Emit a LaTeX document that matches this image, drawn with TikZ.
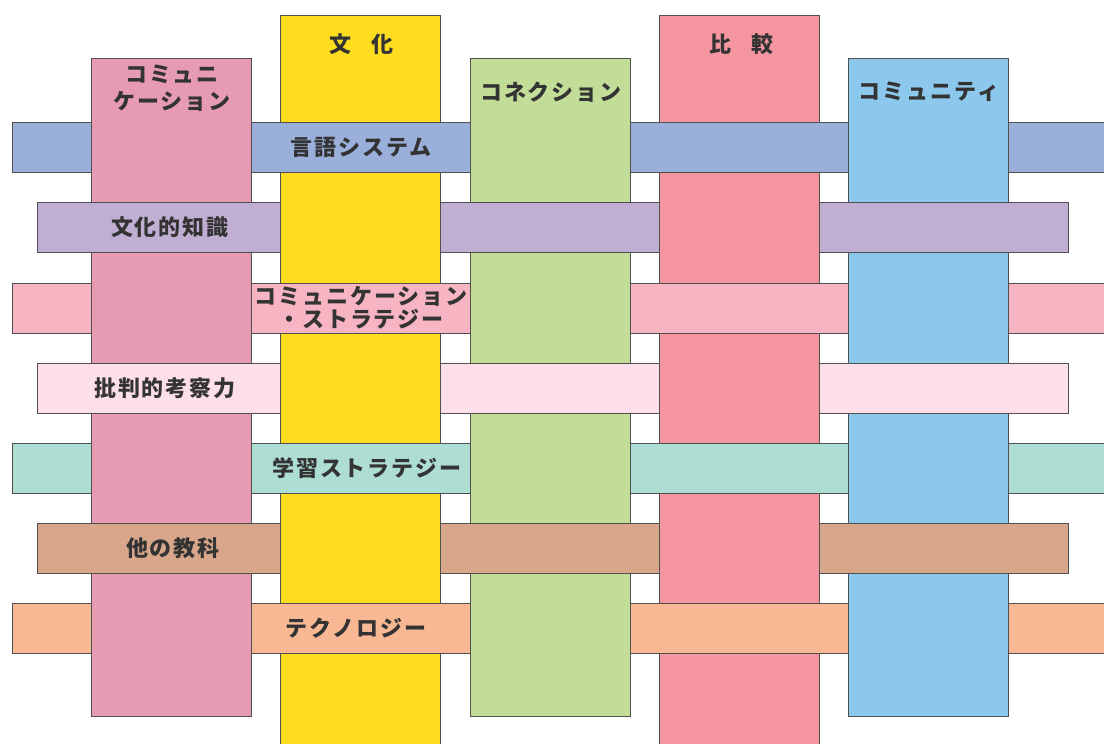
\documentclass[tikz,border=0pt]{standalone}
\usepackage{fontspec}
\newfontfamily\jpfont{Noto Sans CJK JP}[LetterSpace=9]
\definecolor{colA}{HTML}{E79BB2}
\definecolor{colB}{HTML}{FEDD20}
\definecolor{colC}{HTML}{C1DD98}
\definecolor{colD}{HTML}{F4959F}
\definecolor{colE}{HTML}{8CC7EC}
\definecolor{rowA}{HTML}{9AAFD9}
\definecolor{rowB}{HTML}{C1AED3}
\definecolor{rowC}{HTML}{F7B4C3}
\definecolor{rowD}{HTML}{FDDFEA}
\definecolor{rowE}{HTML}{AEDDD3}
\definecolor{rowF}{HTML}{D7A68B}
\definecolor{rowG}{HTML}{F9B894}
\definecolor{edgecol}{HTML}{505050}
\definecolor{txtcol}{HTML}{333333}
\tikzset{
  frame/.style={draw=edgecol, line width=0.8pt, rectangle, inner sep=0pt, outer sep=0pt, anchor=north west},
  colbox/.style={frame, minimum width=160pt, minimum height=#1},
  rowbox/.style={frame, minimum width=#1, minimum height=50pt},
  lbl/.style={font={\jpfont\bfseries\fontsize{22}{24}\selectfont}, text=txtcol, align=center, inner sep=0pt},
}
\begin{document}
\begin{tikzpicture}[x=1pt,y=-1pt]
\useasboundingbox (0,0) rectangle (1104,744);
\clip (0,0) rectangle (1104,744);
% columns
\node[colbox=658pt, fill=colA] (cA) at (91,58) {};
\node[colbox=745pt, fill=colB] (cB) at (280,15) {};
\node[colbox=658pt, fill=colC] (cC) at (470,58) {};
\node[colbox=745pt, fill=colD] (cD) at (659,15) {};
\node[colbox=658pt, fill=colE] (cE) at (848,58) {};
% rows
\node[rowbox=1100pt, fill=rowA] (rA) at (12,122) {};
\node[rowbox=1031pt, fill=rowB] (rB) at (37,202) {};
\node[rowbox=1100pt, fill=rowC] (rC) at (12,283) {};
\node[rowbox=1031pt, fill=rowD] (rD) at (37,363) {};
\node[rowbox=1100pt, fill=rowE] (rE) at (12,443) {};
\node[rowbox=1031pt, fill=rowF] (rF) at (37,523) {};
\node[rowbox=1100pt, fill=rowG] (rG) at (12,603) {};
% columns passing over rows
\foreach \c/\cc in {cA/colA, cC/colC, cE/colE}
  \foreach \r in {rA,rC,rE,rG} {
    \fill[\cc] ([yshift=0.6pt]\c.west |- \r.north) rectangle ([yshift=-0.6pt]\c.east |- \r.south);
    \draw[draw=edgecol, line width=0.8pt] ([yshift=0.6pt]\c.west |- \r.north) -- ([yshift=-0.6pt]\c.west |- \r.south);
    \draw[draw=edgecol, line width=0.8pt] ([yshift=0.6pt]\c.east |- \r.north) -- ([yshift=-0.6pt]\c.east |- \r.south);
  }
\foreach \c/\cc in {cB/colB, cD/colD}
  \foreach \r in {rB,rD,rF} {
    \fill[\cc] ([yshift=0.6pt]\c.west |- \r.north) rectangle ([yshift=-0.6pt]\c.east |- \r.south);
    \draw[draw=edgecol, line width=0.8pt] ([yshift=0.6pt]\c.west |- \r.north) -- ([yshift=-0.6pt]\c.west |- \r.south);
    \draw[draw=edgecol, line width=0.8pt] ([yshift=0.6pt]\c.east |- \r.north) -- ([yshift=-0.6pt]\c.east |- \r.south);
  }
% column labels
\node[lbl, font={\jpfont\bfseries\fontsize{22}{27}\selectfont}] (tA) at (172,88) {コミュニ\\ケーション};
\node[lbl] (tB) at (361,44) {文\hspace{20pt}化};
\node[lbl] (tC) at (551,92) {コネクション};
\node[lbl] (tD) at (741,44) {比\hspace{20pt}較};
\node[lbl] (tE) at (929,92) {コミュニティ};
% row labels
\node[lbl] (lA) at (361,147) {言語システム};
\node[lbl] (lB) at (170,227) {文化的知識};
\node[lbl, font={\jpfont\bfseries\fontsize{22}{23}\selectfont}] (lC) at (361,308) {コミュニケーション\\・ストラテジー};
\node[lbl] (lD) at (165,388) {批判的考察力};
\node[lbl] (lE) at (367,468) {学習ストラテジー};
\node[lbl] (lF) at (173,548) {他の教科};
\node[lbl] (lG) at (356,628) {テクノロジー};
\end{tikzpicture}
\end{document}
